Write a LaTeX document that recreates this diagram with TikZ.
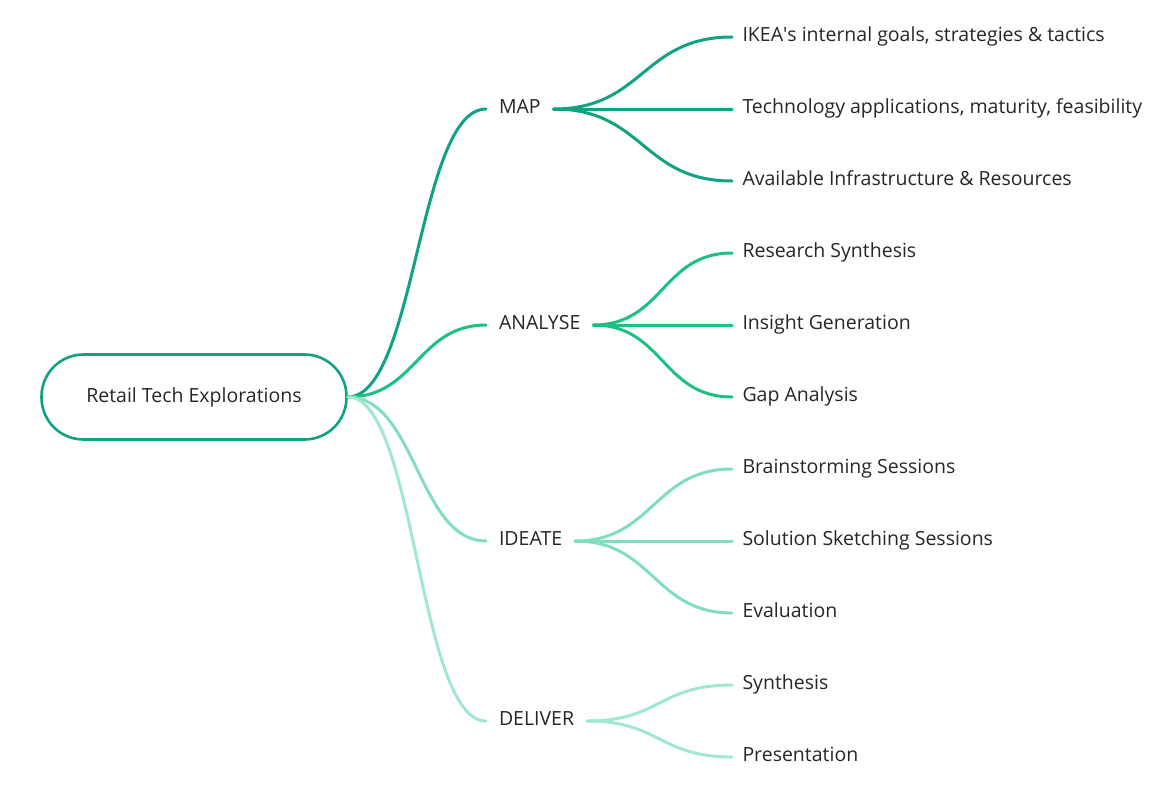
\documentclass[tikz,border=0pt]{standalone}
\usepackage{fontspec}
\setmainfont{Open Sans}
\usepackage{tikz}
\usetikzlibrary{positioning}

\definecolor{mapgreen}{HTML}{10A282}
\definecolor{analysegreen}{HTML}{1CC182}
\definecolor{ideategreen}{HTML}{80DEBD}
\definecolor{delivergreen}{HTML}{A0E8CF}
\definecolor{textgray}{HTML}{262626}

\begin{document}
\begin{tikzpicture}[x=1pt,y=-1pt,line width=3pt,line cap=round,
    every node/.style={font=\fontsize{19.5}{23}\selectfont,text=textgray},
    topic/.style={draw=mapgreen,line width=2.6pt,rounded corners=42pt,
        minimum width=305pt,minimum height=85pt},
    phase/.style={anchor=west,inner xsep=11.5pt,text height=14pt,text depth=6pt},
    leaf/.style={anchor=west,inner xsep=9pt,text height=14pt,text depth=6pt}]
    \useasboundingbox (0,0) rectangle (1172,811);

    % Draw central topic
    \node[topic] (root) at (194,397) {Retail Tech Explorations};

    % Draw phases
    \node[phase] (map) at (486,109) {MAP};
    \node[phase] (analyse) at (486,325) {ANALYSE};
    \node[phase] (ideate) at (486,541) {IDEATE};
    \node[phase] (deliver) at (486,721) {DELIVER};

    \foreach \p/\c in {map/mapgreen,analyse/analysegreen,ideate/ideategreen,deliver/delivergreen}
        \draw[\c] (root.east) .. controls +(68,0) and +(-68,0) .. (\p.west);

    % Draw MAP items
    \foreach \n/\y/\t in {map1/37/{IKEA\textquotesingle s internal goals, strategies \& tactics},
        map2/109/{Technology applications, maturity, feasibility},
        map3/181/{Available Infrastructure \& Resources}} {
        \node[leaf] (\n) at (732,\y) {\t};
        \draw[mapgreen] (map.east) .. controls +(90,0) and +(-90,0) .. (\n.west);
    }

    % Draw ANALYSE items
    \foreach \n/\y/\t in {analyse1/253/{Research Synthesis},
        analyse2/325/{Insight Generation},
        analyse3/397/{Gap Analysis}} {
        \node[leaf] (\n) at (732,\y) {\t};
        \draw[analysegreen] (analyse.east) .. controls +(70,0) and +(-70,0) .. (\n.west);
    }

    % Draw IDEATE items
    \foreach \n/\y/\t in {ideate1/469/{Brainstorming Sessions},
        ideate2/541/{Solution Sketching Sessions},
        ideate3/613/{Evaluation}} {
        \node[leaf] (\n) at (732,\y) {\t};
        \draw[ideategreen] (ideate.east) .. controls +(78,0) and +(-78,0) .. (\n.west);
    }

    % Draw DELIVER items
    \foreach \n/\y/\t in {deliver1/685/{Synthesis},
        deliver2/757/{Presentation}} {
        \node[leaf] (\n) at (732,\y) {\t};
        \draw[delivergreen] (deliver.east) .. controls +(73,0) and +(-73,0) .. (\n.west);
    }
\end{tikzpicture}
\end{document}
